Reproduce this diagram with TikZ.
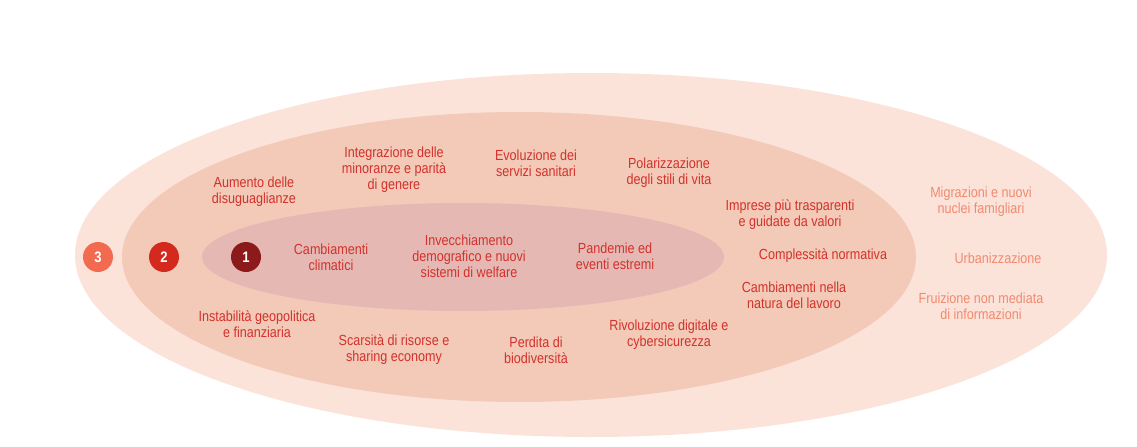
\documentclass[tikz,border=0pt]{standalone}
\usepackage{fontspec}
\setmainfont{Liberation Sans}[FakeStretch=0.86]
\definecolor{outerc}{HTML}{FCE3D9}
\definecolor{midc}{HTML}{F3C9B8}
\definecolor{innc}{HTML}{E5B8B4}
\definecolor{txr}{HTML}{D2322B}
\definecolor{txo}{HTML}{F08A70}
\definecolor{c3}{HTML}{F26A4F}
\definecolor{c2}{HTML}{D42A1E}
\definecolor{c1}{HTML}{8C1A1A}
\begin{document}
\begin{tikzpicture}[x=0.03cm,y=-0.03cm,
  lab/.style={font=\fontsize{12.5}{13.5}\selectfont,text=txr,align=center,inner sep=0pt},
  olab/.style={lab,text=txo},
  num/.style={circle,minimum size=0.9cm,inner sep=0pt,text=white,font=\bfseries\fontsize{13}{13}\selectfont}]
\useasboundingbox (0,0) rectangle (1137,447);
\fill[outerc] (591,255) ellipse [x radius=516, y radius=182];
\fill[midc] (519,257) ellipse [x radius=397, y radius=145];
\fill[innc] (463,257) ellipse [x radius=261, y radius=54];
\node[num,fill=c3] (n3) at (98,257) {3};
\node[num,fill=c2] (n2) at (164,257) {2};
\node[num,fill=c1] (n1) at (246,257) {1};
\node[lab] (a1) at (331,257) {Cambiamenti\\climatici};
\node[lab] (a2) at (469,256) {Invecchiamento\\demografico e nuovi\\sistemi di welfare};
\node[lab] (a3) at (615,256) {Pandemie ed\\eventi estremi};
\node[lab] (b1) at (254,192) {Aumento delle\\disuguaglianze};
\node[lab] (b2) at (394,170) {Integrazione delle\\minoranze e parità\\di genere};
\node[lab] (b3) at (536,163) {Evoluzione dei\\servizi sanitari};
\node[lab] (b4) at (669,173) {Polarizzazione\\degli stili di vita};
\node[lab] (b5) at (790,215) {Imprese più trasparenti\\e guidate da valori};
\node[lab] (b6) at (823,256) {Complessità normativa};
\node[lab] (b7) at (794,295) {Cambiamenti nella\\natura del lavoro};
\node[lab] (b8) at (669,335) {Rivoluzione digitale e\\cybersicurezza};
\node[lab] (b9) at (536,350) {Perdita di\\biodiversità};
\node[lab] (b10) at (394,350) {Scarsità di risorse e\\sharing economy};
\node[lab] (b11) at (257,324) {Instabilità geopolitica\\e finanziaria};
\node[olab] (c1) at (981,202) {Migrazioni e nuovi\\nuclei famigliari};
\node[olab] (c2) at (998,258) {Urbanizzazione};
\node[olab] (c3) at (981,306) {Fruizione non mediata\\di informazioni};
\end{tikzpicture}
\end{document}
